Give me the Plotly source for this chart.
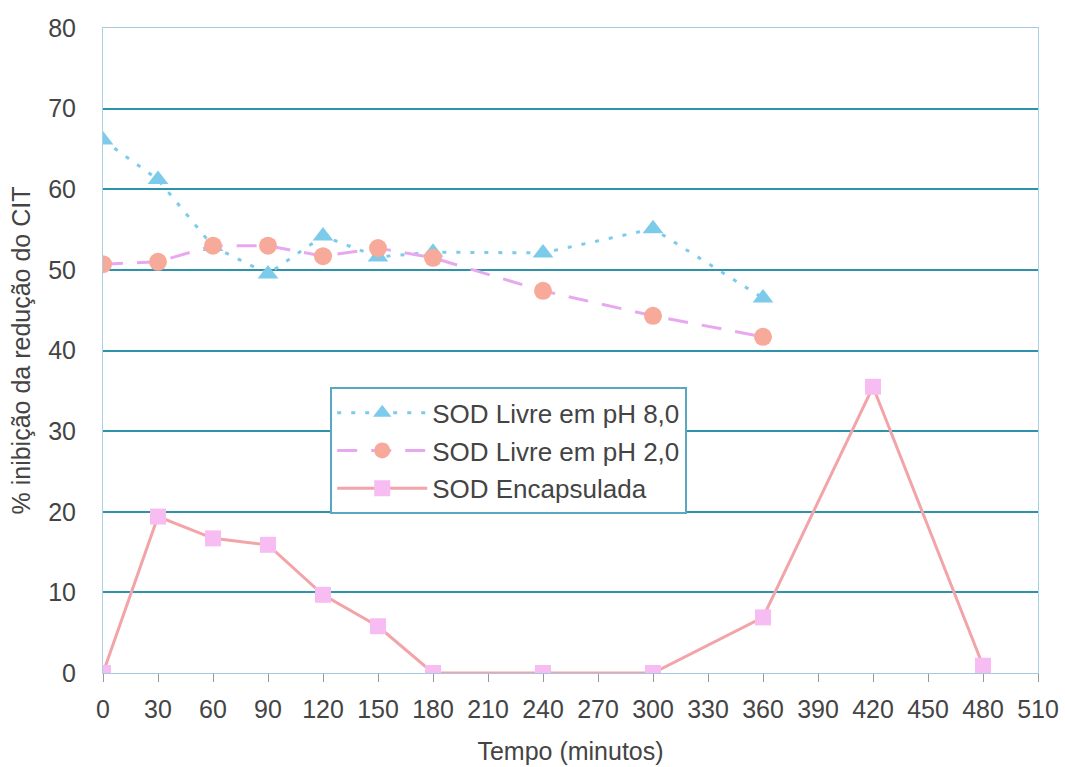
import plotly.graph_objects as go

t_ph8 = [0, 30, 60, 90, 120, 150, 180, 240, 300, 360]
v_ph8 = [66.1, 61.2, 52.9, 49.5, 54.2, 51.6, 52.2, 52.1, 55.1, 46.5]

t_ph2 = [0, 30, 60, 90, 120, 150, 180, 240, 300, 360]
v_ph2 = [50.7, 51.0, 53.0, 53.0, 51.7, 52.7, 51.5, 47.4, 44.3, 41.7]

t_enc = [0, 30, 60, 90, 120, 150, 180, 240, 300, 360, 420, 480]
v_enc = [0, 19.4, 16.7, 15.9, 9.7, 5.8, 0, 0, 0, 6.9, 35.5, 0.9]

x_ticks = list(range(0, 511, 30))
y_ticks = list(range(0, 81, 10))

font = "Liberation Sans, Arial, sans-serif"
txt = "#444444"

fig = go.Figure()
fig.add_trace(go.Scatter(
    x=t_ph8, y=v_ph8, name="SOD Livre em pH 8,0", mode="lines+markers",
    legendgroup="a",
    line=dict(color="#7CCBEB", width=3, dash="4px,10px"),
    marker=dict(symbol="triangle-up", size=18, color="#7CCBEB"),
))
fig.add_trace(go.Scatter(
    x=t_ph2, y=v_ph2, name="SOD Livre em pH 2,0", mode="lines+markers",
    legendgroup="b",
    line=dict(color="#E8A8F0", width=3, dash="20px,14px"),
    marker=dict(symbol="circle", size=18, color="#F7A99A"),
))
fig.add_trace(go.Scatter(
    x=t_enc, y=v_enc, name="SOD Encapsulada", mode="lines+markers",
    legendgroup="c",
    line=dict(color="#F2A4A8", width=3),
    marker=dict(symbol="square", size=16, color="#F7BDF2"),
))

fig.update_layout(
    width=1065, height=767,
    margin=dict(l=103, r=27, t=28, b=94),
    paper_bgcolor="white", plot_bgcolor="white",
    font=dict(family=font, color=txt, size=25),
    showlegend=True,
    legend=dict(
        x=0.243, y=0.443, xanchor="left", yanchor="top",
        bgcolor="white", bordercolor="#5AA8C0", borderwidth=2,
        font=dict(family=font, size=26, color=txt),
        itemwidth=90, tracegroupgap=1, traceorder="grouped",
    ),
    xaxis=dict(
        range=[0, 510], tickmode="array", tickvals=x_ticks,
        showgrid=False, zeroline=False, automargin=False,
        showline=True, linecolor="#A8C8E0", linewidth=1, mirror=True,
        ticks="outside", ticklen=8, tickcolor="#999999",
        ticklabelstandoff=6,
        tickfont=dict(size=25, color=txt, family=font),
        title=dict(text="Tempo (minutos)", font=dict(size=25, color=txt, family=font), standoff=20),
    ),
    yaxis=dict(
        range=[0, 80], tickmode="array", tickvals=y_ticks,
        showgrid=True, gridcolor="#2E93A8", gridwidth=2,
        zeroline=False,
        showline=True, linecolor="#A8D0E6", linewidth=1, mirror=True,
        ticks="", ticklen=0, ticklabelstandoff=21,
        tickfont=dict(size=25, color=txt, family=font),
        title=dict(text="% inibição da redução do CIT", font=dict(size=25, color=txt, family=font), standoff=10),
    ),
)

fig.write_html("out.html")
